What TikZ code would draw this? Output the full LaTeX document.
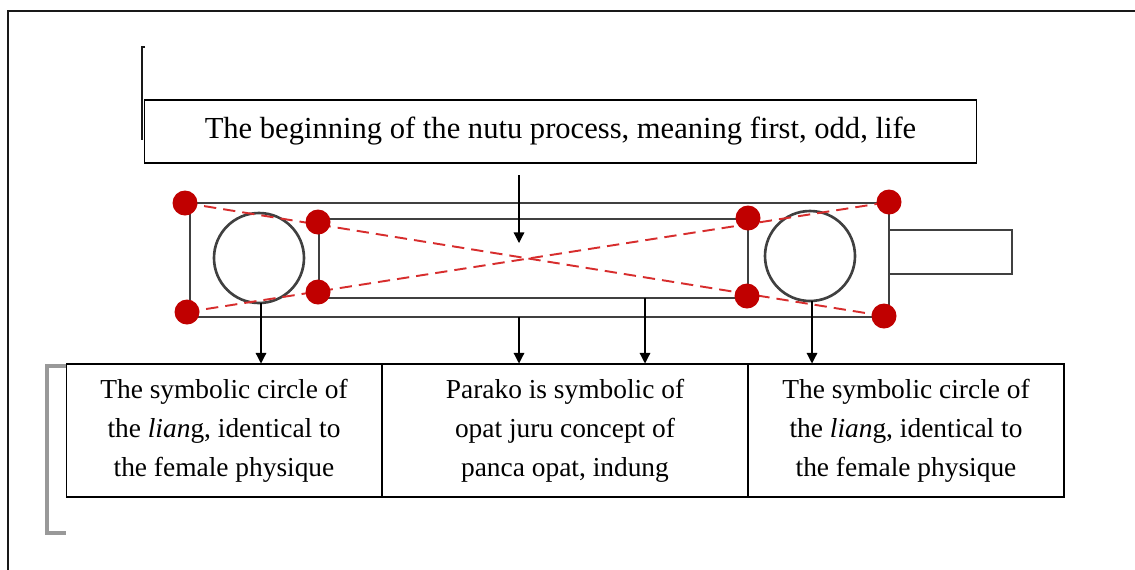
\documentclass[tikz,border=0pt]{standalone}
\usepackage{fontspec}
\setmainfont{Liberation Serif}
\usetikzlibrary{arrows.meta}
\definecolor{framecol}{gray}{0.1}
\definecolor{partcol}{gray}{0.25}
\definecolor{dotred}{RGB}{192,0,0}
\definecolor{diagred}{RGB}{215,45,45}
\definecolor{brackcol}{gray}{0.6}
\tikzset{
  txt/.style={font=\fontsize{15.6}{22.2}\selectfont},
  bigtxt/.style={font=\fontsize{17.4}{22.2}\selectfont},
  lbox/.style={draw,rectangle,inner sep=0pt,align=center,line width=0.6pt,txt},
  part/.style={draw=partcol,line width=1.5pt},
  reddot/.style={fill=dotred},
  diag/.style={draw=diagred,line width=1.1pt,dash pattern=on 7pt off 4pt},
  arr/.style={draw=black,line width=0.7pt,-{Triangle[length=6pt,width=6pt]}},
}

\begin{document}
\begin{tikzpicture}[x=0.02cm,y=-0.02cm]
  \useasboundingbox (0,0) rectangle (1135,569);
  % outer frame
  \draw[framecol,line width=0.9pt] (8,575) -- (8,11) -- (1140,11);
  % brackets
  \draw[framecol,line width=1.2pt] (145,47) -- (142,47) -- (142,140);
  \draw[brackcol,line width=2pt] (66,366) -- (47,366) -- (47,533) -- (66,533);
  % label boxes
  \node[lbox,bigtxt,minimum width=16.66cm,minimum height=1.26cm] (begin) at (560.5,131.5)
    {The beginning of the nutu process, meaning first, odd, life};
  \node[lbox,minimum width=6.32cm,minimum height=2.66cm] (liangL) at (224,430.5)
    {The symbolic circle of\\the \textit{lian}g, identical to\\the female physique};
  \node[lbox,minimum width=7.32cm,minimum height=2.66cm] (parako) at (565,430.5)
    {Parako is symbolic of\\opat juru concept of\\panca opat, indung};
  \node[lbox,minimum width=6.32cm,minimum height=2.66cm] (liangR) at (906,430.5)
    {The symbolic circle of\\the \textit{lian}g, identical to\\the female physique};
  % the parako body
  \draw[part] (184,203) -- (889,203) -- (889,317) -- (184,317);
  \draw[part] (190,203) -- (190,317);
  \draw[part] (319,219) rectangle (748,298);
  \draw[part] (889,230) -- (1012,230) -- (1012,274) -- (889,274);
  \draw[part] (259,258) circle (45);
  \draw[part] (810,256) circle (45);
  % corner points
  \coordinate (tl) at (185,203);
  \coordinate (bl) at (187,312);
  \coordinate (tr) at (889,202);
  \coordinate (br) at (884,316);
  \coordinate (itl) at (318,222);
  \coordinate (ibl) at (318,292);
  \coordinate (itr) at (748,218);
  \coordinate (ibr) at (747,296);
  \draw[diag] (tl) -- (br);
  \draw[diag] (bl) -- (tr);
  \foreach \p in {tl,bl,tr,br,itl,ibl,itr,ibr}
    \fill[reddot] (\p) circle (12.5);
  % arrows
  \coordinate (top1) at (519,175);
  \coordinate (top2) at (519,243);
  \coordinate (s1) at (261,303);
  \coordinate (s2) at (519,317);
  \coordinate (s3) at (645,298);
  \coordinate (s4) at (812,301);
  \draw[arr] (top1) -- (top2);
  \draw[arr] (s1) -- (s1 |- liangL.north);
  \draw[arr] (s2) -- (s2 |- parako.north);
  \draw[arr] (s3) -- (s3 |- parako.north);
  \draw[arr] (s4) -- (s4 |- liangR.north);
\end{tikzpicture}
\end{document}
